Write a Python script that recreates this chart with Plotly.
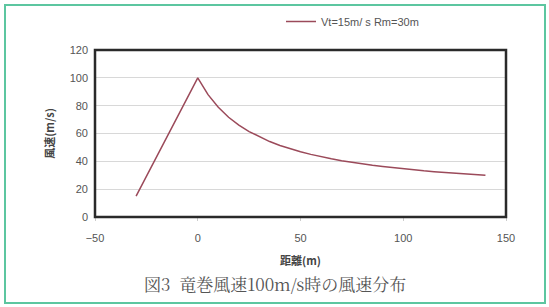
import plotly.graph_objects as go

# Distance (m) and wind speed (m/s)
distance = [-30, -20, -10, 0, 5, 10, 15, 20, 25, 30, 35, 40, 45, 50, 55, 60, 65, 70,
            75, 80, 85, 90, 95, 100, 105, 110, 115, 120, 125, 130, 135, 140]
speed = [15, 43.3, 71.7, 100, 87.9, 78.8, 71.7, 66.0, 61.4, 57.5, 54.2, 51.4,
         49.0, 46.9, 45.0, 43.3, 41.8, 40.5, 39.3, 38.2, 37.2, 36.3, 35.4, 34.6,
         33.9, 33.2, 32.6, 32.0, 31.5, 30.9, 30.5, 30.0]
series_name = "Vt=15m/ s Rm=30m"
x_ticks = [-50, 0, 50, 100, 150]
y_ticks = [0, 20, 40, 60, 80, 100, 120]
x_title = "距離(m)"
y_title = "風速(m/s)"
caption = "図3  竜巻風速100m/s時の風速分布"

W, H = 549, 307
L, R, T, B = 95, 43, 50, 90
pw, ph = W - L - R, H - T - B

def px(x):
    return (x - L) / pw

def py(y):
    return (H - B - y) / ph

fig = go.Figure()
fig.add_trace(go.Scatter(x=distance, y=speed, mode="lines", name=series_name,
                         line=dict(color="#9b4a5a", width=1.5)))

axis_font = dict(family="Liberation Sans, Arial", size=11, color="#555")
fig.update_layout(
    width=W, height=H,
    margin=dict(l=L, r=R, t=T, b=B, autoexpand=False),
    paper_bgcolor="white", plot_bgcolor="white",
    showlegend=True,
    legend=dict(x=px(281), y=py(7), xanchor="left", yanchor="top",
                font=dict(family="Liberation Sans, Arial", size=11, color="#555"),
                bgcolor="rgba(0,0,0,0)"),
    xaxis=dict(range=[-50, 150], tickvals=x_ticks, showgrid=False, zeroline=False,
               showline=False, ticks="outside", ticklen=3, tickcolor="#ccc",
               tickfont=axis_font, ticklabelstandoff=8, automargin=False,
               title=dict(text="<b>" + x_title + "</b>", standoff=14,
                          font=dict(family="Noto Sans CJK JP", size=11, color="#444"))),
    yaxis=dict(range=[0, 120], tickvals=y_ticks, showgrid=True, gridcolor="#d8d8d8",
               gridwidth=1, zeroline=False, showline=False, ticks="",
               tickfont=axis_font, ticklabelstandoff=6, automargin=False,
               title=dict(text="<b>" + y_title + "</b>", standoff=12,
                          font=dict(family="Noto Sans CJK JP", size=11, color="#444"))),
    font=dict(family="Liberation Sans, Noto Sans CJK JP"),
)

# plot frame
fig.add_shape(type="rect", xref="paper", yref="paper", x0=0, x1=1, y0=0, y1=1,
              line=dict(color="#2a2a2a", width=2.5), layer="above")
# outer green border
fig.add_shape(type="rect", xref="paper", yref="paper",
              x0=px(5), x1=px(545), y0=py(303), y1=py(5),
              line=dict(color="#5cc6a0", width=2))

fig.add_annotation(text=caption, xref="paper", yref="paper", x=px(275), y=py(283),
                   showarrow=False, xanchor="center", yanchor="middle",
                   font=dict(family="Noto Serif CJK JP, Noto Sans CJK JP", size=17, color="#555"))

fig.write_html("out.html", config={"displayModeBar": False},
               post_script="document.body.style.margin='0';document.body.style.overflow='hidden';")
